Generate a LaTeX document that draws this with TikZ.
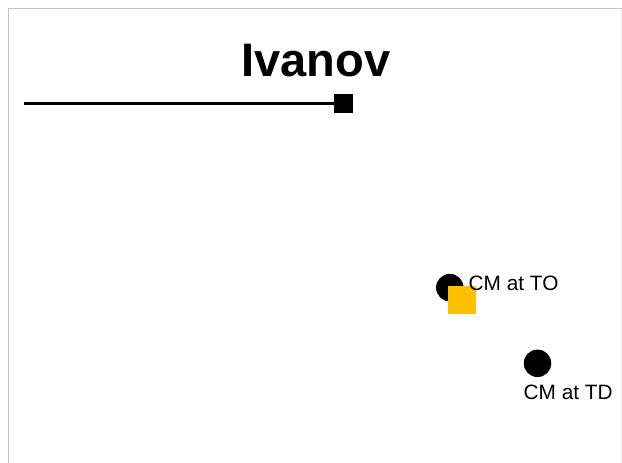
\documentclass[tikz,border=0pt]{standalone}
\usepackage{fontspec}
\setmainfont{Liberation Sans}
\definecolor{framegray}{HTML}{C4C4C4}
\definecolor{framelight}{HTML}{ECECEC}
\definecolor{amber}{HTML}{FFC000}
\begin{document}
\begin{tikzpicture}[x=1pt,y=-1pt,
  dot/.style={circle,fill=black,inner sep=0pt,minimum size=27.5pt},
  marker/.style={rectangle,fill=black,inner sep=0pt,minimum size=19pt},
  orangesq/.style={rectangle,fill=amber,inner sep=0pt,minimum size=28pt},
  lbl/.style={anchor=base west,inner sep=0pt,font=\fontsize{20.8}{24}\selectfont},
  ttl/.style={anchor=base,inner sep=0pt,font=\fontsize{47}{56}\selectfont\bfseries}]
\useasboundingbox (0,0) rectangle (622,463);
\draw[framegray,line width=1.2pt] (8.5,470) -- (8.5,8.5) -- (622,8.5);
\draw[framelight,line width=1pt] (621,8.5) -- (621,470);
\node[ttl] (title) at (316,76) {Ivanov};
\coordinate (lstart) at (24,103.6);
\node[marker] (sq) at (343.5,103.6) {};
\draw[line width=3.6pt] (lstart) -- (sq.west);
\node[dot] (to) at (449.8,287.6) {};
\node[orangesq] (osq) at (461.8,299.5) {};
\node[lbl] (tolbl) at (468.5,290) {CM at TO};
\node[dot] (td) at (537.5,363.3) {};
\node[lbl] (tdlbl) at (523.5,399) {CM at TD};
\end{tikzpicture}
\end{document}
